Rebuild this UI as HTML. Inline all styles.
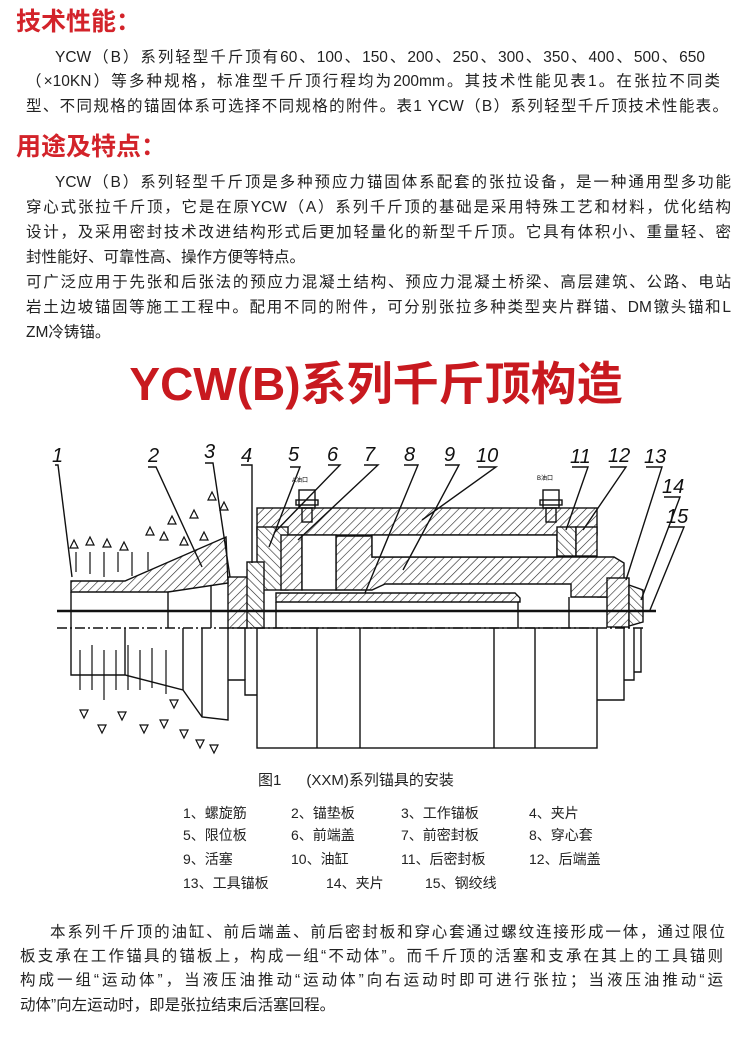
<!DOCTYPE html>
<html><head><meta charset="utf-8"><style>
body{margin:0;background:#fff;}
#w{position:relative;width:750px;height:1057px;overflow:hidden;background:#fff;font-family:"Liberation Sans","Noto Sans CJK SC",sans-serif;color:#222;}
.t{position:absolute;white-space:nowrap;line-height:1;}
.h{color:#d3232a;font-weight:bold;font-size:25px;}
.p{font-size:15.5px;}
.j{text-align:justify;text-align-last:justify;}
</style></head><body><div id="w">
<div class="t h" style="left:16px;top:10px;">技术性能：</div>
<div class="t p j" style="left:55px;top:50px;width:650px;">YCW（B）系列轻型千斤顶有60、100、150、200、250、300、350、400、500、650</div>
<div class="t p j" style="left:26px;top:74px;width:694px;">（×10KN）等多种规格，标准型千斤顶行程均为200mm。其技术性能见表1。在张拉不同类</div>
<div class="t p j" style="left:26px;top:99px;width:702px;">型、不同规格的锚固体系可选择不同规格的附件。表1 YCW（B）系列轻型千斤顶技术性能表。</div>
<div class="t h" style="left:16px;top:135px;">用途及特点：</div>
<div class="t p j" style="left:55px;top:175px;width:676px;">YCW（B）系列轻型千斤顶是多种预应力锚固体系配套的张拉设备，是一种通用型多功能</div>
<div class="t p j" style="left:26px;top:200px;width:705px;">穿心式张拉千斤顶，它是在原YCW（A）系列千斤顶的基础是采用特殊工艺和材料，优化结构</div>
<div class="t p j" style="left:26px;top:225px;width:705px;">设计，及采用密封技术改进结构形式后更加轻量化的新型千斤顶。它具有体积小、重量轻、密</div>
<div class="t p" style="left:26px;top:250px;">封性能好、可靠性高、操作方便等特点。</div>
<div class="t p j" style="left:26px;top:275px;width:705px;">可广泛应用于先张和后张法的预应力混凝土结构、预应力混凝土桥梁、高层建筑、公路、电站</div>
<div class="t p j" style="left:26px;top:300px;width:705px;">岩土边坡锚固等施工工程中。配用不同的附件，可分别张拉多种类型夹片群锚、DM镦头锚和L</div>
<div class="t p" style="left:26px;top:325px;">ZM冷铸锚。</div>
<div class="t" style="left:112px;top:361px;width:528px;color:#c8191f;font-weight:bold;font-size:46px;letter-spacing:0px;text-align:center;">YCW(B)系列千斤顶构造</div>

<svg style="position:absolute;left:0;top:0" width="750" height="1057" viewBox="0 0 750 1057">
<defs><pattern id="hp" width="6" height="6" patternUnits="userSpaceOnUse" patternTransform="rotate(45)"><rect width="6" height="6" fill="#fff"/><line x1="0" y1="0" x2="0" y2="6" stroke="#222" stroke-width="1.2"/></pattern>
<pattern id="hq" width="6" height="6" patternUnits="userSpaceOnUse" patternTransform="rotate(-45)"><rect width="6" height="6" fill="#fff"/><line x1="0" y1="0" x2="0" y2="6" stroke="#222" stroke-width="1.2"/></pattern></defs>
<g stroke="#111" stroke-width="1.4" fill="none">
<rect x="257" y="628" width="340" height="120"/>
<line x1="317" y1="628" x2="317" y2="748"/><line x1="360" y1="628" x2="360" y2="748"/><line x1="494" y1="628" x2="494" y2="748"/><line x1="535" y1="628" x2="535" y2="748"/>
<polyline points="71,628 71,675 125,675 183,690 202,717 228,720 228,628"/>
<line x1="125" y1="628" x2="125" y2="675"/><line x1="183" y1="628" x2="183" y2="690"/><line x1="202" y1="628" x2="202" y2="717"/>
<polyline points="228,680 245,680 245,695 257,695"/><line x1="245" y1="628" x2="245" y2="680"/>
<polyline points="597,700 624,700 624,628"/><polyline points="624,680 634,680 634,628"/><polyline points="634,672 641,672 641,628"/>
<line x1="71" y1="592" x2="71" y2="628"/><line x1="168" y1="592" x2="168" y2="628"/><line x1="211" y1="585" x2="211" y2="628"/>
<line x1="518" y1="600" x2="518" y2="628"/><line x1="569" y1="597" x2="569" y2="628"/><line x1="276" y1="602" x2="276" y2="628"/>
<line x1="597" y1="597" x2="607" y2="597"/>
<rect x="257" y="508" width="340" height="27" fill="url(#hp)"/>
<rect x="257" y="527" width="31" height="63" fill="url(#hq)"/>
<rect x="281" y="535" width="21" height="55" fill="url(#hp)"/>
<polygon points="336,536 372,536 372,557 614,557 624,563 624,597 571,597 571,584 385,584 372,590 336,590" fill="url(#hp)"/>
<polygon points="276,593 515,593 520,598 520,602 276,602" fill="url(#hp)"/>
<rect x="302" y="535" width="34" height="55" fill="#fff"/>
<rect x="372" y="535" width="185" height="22" fill="#fff"/>
<rect x="557" y="527" width="19" height="29" fill="url(#hq)"/>
<rect x="576" y="527" width="21" height="29" fill="url(#hp)"/>
<rect x="607" y="578" width="22" height="49" fill="url(#hp)"/>
<polygon points="629,585 643,590 643,622 629,626" fill="url(#hq)"/>
<rect x="228" y="577" width="20" height="51" fill="url(#hp)"/>
<rect x="247" y="562" width="17" height="66" fill="url(#hq)"/>
<polygon points="71,581 125,581 226,537 228,583 168,592 71,592" fill="url(#hp)"/>
<rect x="299" y="490" width="16" height="18"/><rect x="296" y="500" width="22" height="5"/><rect x="302" y="508" width="10" height="14"/>
<rect x="543" y="490" width="16" height="18"/><rect x="540" y="500" width="22" height="5"/><rect x="546" y="508" width="10" height="14"/>
<line x1="57" y1="611" x2="656" y2="611" stroke-width="2.4"/>
<line x1="57" y1="628" x2="646" y2="628" stroke-dasharray="10,3,2,3"/>
<polyline points="55,465 58,465 72,577"/><polyline points="148,467 156,467 202,567"/><polyline points="205,463 213,463 230,577"/>
<polyline points="241,465 252,465 252,563"/><polyline points="290,467 300,467 269,547"/><polyline points="328,465 340,465 274,533"/>
<polyline points="364,465 378,465 298,540"/><polyline points="404,465 418,465 365,593"/><polyline points="445,465 459,465 403,570"/>
<polyline points="478,467 496,467 422,520"/><polyline points="572,467 588,467 566,530"/><polyline points="610,467 626,467 583,530"/>
<polyline points="646,467 662,467 626,580"/><polyline points="664,497 680,497 641,600"/><polyline points="668,527 684,527 650,610"/>
<g stroke-width="1.2">
<path d="M70,548 l4,-8 l4,8z M86,545 l4,-8 l4,8z M103,547 l4,-8 l4,8z M120,550 l4,-8 l4,8z M146,535 l4,-8 l4,8z M168,524 l4,-8 l4,8z M190,518 l4,-8 l4,8z M180,545 l4,-8 l4,8z M200,540 l4,-8 l4,8z M208,500 l4,-8 l4,8z M220,510 l4,-8 l4,8z M160,540 l4,-8 l4,8z"/>
<path d="M80,650 v40 M92,645 v45 M104,650 v50 M116,650 v40 M128,645 v45 M140,650 v40 M152,648 v40 M166,650 v44"/>
<path d="M76,552 v20 M90,552 v22 M104,552 v25 M118,552 v20 M132,552 v24 M148,552 v18"/>
<path d="M80,710 l4,8 l4,-8z M98,725 l4,8 l4,-8z M118,712 l4,8 l4,-8z M140,725 l4,8 l4,-8z M160,720 l4,8 l4,-8z M180,730 l4,8 l4,-8z M196,740 l4,8 l4,-8z M210,745 l4,8 l4,-8z M170,700 l4,8 l4,-8z"/>
</g>
</g>
<g font-family="Liberation Sans,sans-serif" font-size="20" fill="#111" font-style="italic">
<text x="52" y="462">1</text><text x="148" y="462">2</text><text x="204" y="458">3</text><text x="241" y="462">4</text>
<text x="288" y="461">5</text><text x="327" y="461">6</text><text x="364" y="461">7</text><text x="404" y="461">8</text>
<text x="444" y="461">9</text><text x="476" y="462">10</text><text x="570" y="463">11</text><text x="608" y="462">12</text>
<text x="644" y="463">13</text><text x="662" y="493">14</text><text x="666" y="523">15</text>
</g>
<text x="292" y="482" font-size="6" font-family="Liberation Sans,Noto Sans CJK SC,sans-serif">A油口</text>
<text x="537" y="480" font-size="6" font-family="Liberation Sans,Noto Sans CJK SC,sans-serif">B油口</text>
</svg>

<div class="t" style="left:258px;top:773px;font-size:15px;">图1&nbsp;&nbsp;&nbsp;&nbsp;&nbsp;&nbsp;(XXM)系列锚具的安装</div>
<div class="t" style="left:183px;top:806px;font-size:14px;">1、螺旋筋</div><div class="t" style="left:291px;top:806px;font-size:14px;">2、锚垫板</div><div class="t" style="left:401px;top:806px;font-size:14px;">3、工作锚板</div><div class="t" style="left:529px;top:806px;font-size:14px;">4、夹片</div>
<div class="t" style="left:183px;top:828px;font-size:14px;">5、限位板</div><div class="t" style="left:291px;top:828px;font-size:14px;">6、前端盖</div><div class="t" style="left:401px;top:828px;font-size:14px;">7、前密封板</div><div class="t" style="left:529px;top:828px;font-size:14px;">8、穿心套</div>
<div class="t" style="left:183px;top:852px;font-size:14px;">9、活塞</div><div class="t" style="left:291px;top:852px;font-size:14px;">10、油缸</div><div class="t" style="left:401px;top:852px;font-size:14px;">11、后密封板</div><div class="t" style="left:529px;top:852px;font-size:14px;">12、后端盖</div>
<div class="t" style="left:183px;top:876px;font-size:14px;">13、工具锚板</div><div class="t" style="left:326px;top:876px;font-size:14px;">14、夹片</div><div class="t" style="left:425px;top:876px;font-size:14px;">15、钢绞线</div>
<div class="t p j" style="left:50px;top:925px;width:675px;">本系列千斤顶的油缸、前后端盖、前后密封板和穿心套通过螺纹连接形成一体，通过限位</div>
<div class="t p j" style="left:20px;top:949px;width:703px;">板支承在工作锚具的锚板上，构成一组“不动体”。而千斤顶的活塞和支承在其上的工具锚则</div>
<div class="t p j" style="left:20px;top:973px;width:703px;">构成一组“运动体”，当液压油推动“运动体”向右运动时即可进行张拉；当液压油推动“运</div>
<div class="t p" style="left:20px;top:998px;">动体”向左运动时，即是张拉结束后活塞回程。</div>
</div></body></html>
